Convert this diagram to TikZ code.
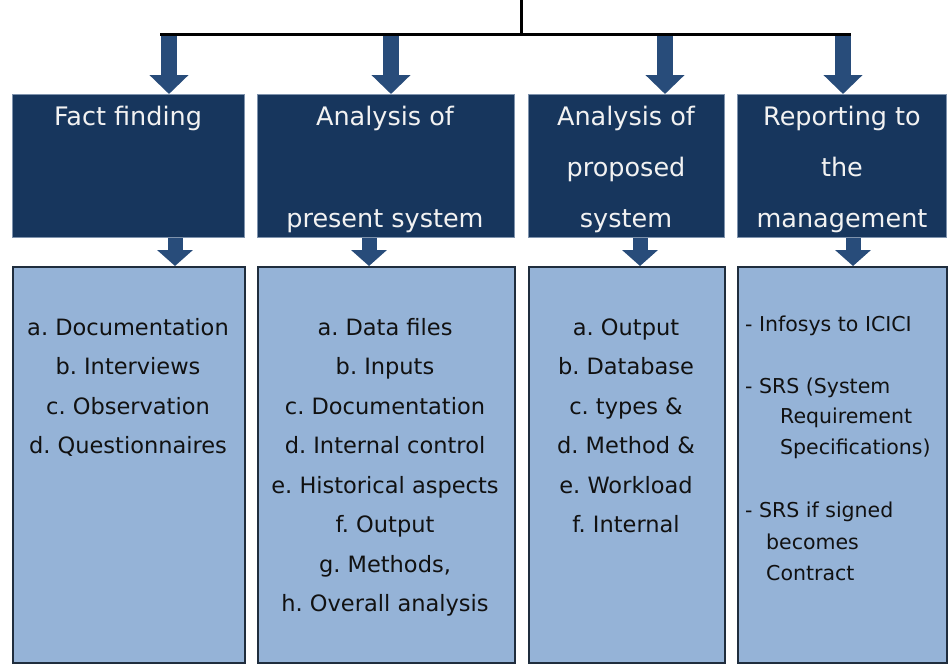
\documentclass[tikz,border=0pt]{standalone}
\usepackage{fontspec}
\setmainfont{DejaVu Sans}
\usetikzlibrary{arrows.meta}
\frenchspacing
\definecolor{hdr}{HTML}{17365D}
\definecolor{hdrline}{HTML}{7F93AD}
\definecolor{bodyfill}{HTML}{95B3D7}
\definecolor{bodyline}{HTML}{1F2D3D}
\definecolor{arr}{HTML}{284C7A}
\definecolor{hdrtext}{HTML}{F2F2F2}
\definecolor{bodytext}{HTML}{111111}
\begin{document}
\begin{tikzpicture}[x=1pt,y=-1pt,
  hdrbox/.style={draw=hdrline, line width=1.2pt, fill=hdr, anchor=north west, inner sep=0pt},
  bodybox/.style={draw=bodyline, line width=1.5pt, fill=bodyfill, anchor=north west, inner sep=0pt},
  hdrtxt/.style={anchor=base, inner sep=0pt, text=hdrtext, font=\fontsize{25.5}{30}\selectfont},
  items/.style={align=center, anchor=north, inner sep=0pt, text=bodytext, font=\fontsize{22.5}{39.5}\selectfont},
  rep/.style={anchor=base west, inner sep=0pt, text=bodytext, font=\fontsize{20.5}{24}\selectfont},
  bigarrow/.style={draw=arr, line width=16pt, -{Triangle[width=38pt,length=19pt]}},
  smallarrow/.style={draw=arr, line width=15pt, -{Triangle[width=35pt,length=16pt]}},
  bar/.style={draw=black, line width=3pt}]
\useasboundingbox (0,0) rectangle (948,664);
\fill[white] (0,0) rectangle (948,664);

% header boxes
\node[hdrbox, minimum width=232pt, minimum height=143pt] (h1) at (12,94) {};
\node[hdrbox, minimum width=257pt, minimum height=143pt] (h2) at (257,94) {};
\node[hdrbox, minimum width=196pt, minimum height=143pt] (h3) at (528,94) {};
\node[hdrbox, minimum width=209pt, minimum height=143pt] (h4) at (737,94) {};

% body boxes
\node[bodybox, minimum width=232pt, minimum height=396pt] (b1) at (12,266) {};
\node[bodybox, minimum width=257pt, minimum height=396pt] (b2) at (257,266) {};
\node[bodybox, minimum width=196pt, minimum height=396pt] (b3) at (528,266) {};
\node[bodybox, minimum width=209pt, minimum height=396pt] (b4) at (737,266) {};

% header texts
\node[hdrtxt] (h1a) at (128,125) {Fact finding};
\node[hdrtxt] (h2a) at (385,125) {Analysis of};
\node[hdrtxt] (h2b) at (385,227) {present system};
\node[hdrtxt] (h3a) at (626,125) {Analysis of};
\node[hdrtxt] (h3b) at (626,176) {proposed};
\node[hdrtxt] (h3c) at (626,227) {system};
\node[hdrtxt] (h4a) at (842,125) {Reporting to};
\node[hdrtxt] (h4b) at (842,176) {the};
\node[hdrtxt] (h4c) at (842,227) {management};

% body texts
\node[items] (t1) at (128,307.35) {\strut a. Documentation\\ b. Interviews\\ c. Observation\\ d. Questionnaires};
\node[items] (t2) at (385,307.35) {\strut a. Data files\\ b. Inputs\\ c. Documentation\\ d. Internal control\\ e. Historical aspects\\ f. Output\\ g. Methods,\\ h. Overall analysis};
\node[items] (t3) at (626,307.35) {\strut a. Output\\ b. Database\\ c. types \&\\ d. Method \&\\ e. Workload\\ f. Internal};

\node[rep] (r1) at (745,331) {- Infosys to ICICI};
\node[rep] (r2) at (745,393) {- SRS (System};
\node[rep] (r3) at (780,423) {Requirement};
\node[rep] (r4) at (780,454) {Specifications)};
\node[rep] (r5) at (745,517) {- SRS if signed};
\node[rep] (r6) at (766,549) {becomes};
\node[rep] (r7) at (766,580) {Contract};

% top connectors
\coordinate (top) at (521,0);
\coordinate (jc) at (521,34);
\coordinate (barL) at (160,34);
\coordinate (barR) at (851,34);
\coordinate (j1) at (169,34);
\coordinate (j2) at (391,34);
\coordinate (j3) at (665,34);
\coordinate (j4) at (843,34);
\draw[bigarrow] (j1) -- (j1 |- h1.north);
\draw[bigarrow] (j2) -- (j2 |- h2.north);
\draw[bigarrow] (j3) -- (j3 |- h3.north);
\draw[bigarrow] (j4) -- (j4 |- h4.north);
\draw[bar] (top) -- (jc);
\draw[bar] (barL) -- (barR);

% small connectors
\coordinate (s1) at (175,0);
\coordinate (s2) at (369,0);
\coordinate (s3) at (640,0);
\coordinate (s4) at (853,0);
\draw[smallarrow] (s1 |- h1.south) -- (s1 |- b1.north);
\draw[smallarrow] (s2 |- h2.south) -- (s2 |- b2.north);
\draw[smallarrow] (s3 |- h3.south) -- (s3 |- b3.north);
\draw[smallarrow] (s4 |- h4.south) -- (s4 |- b4.north);
\end{tikzpicture}
\end{document}
